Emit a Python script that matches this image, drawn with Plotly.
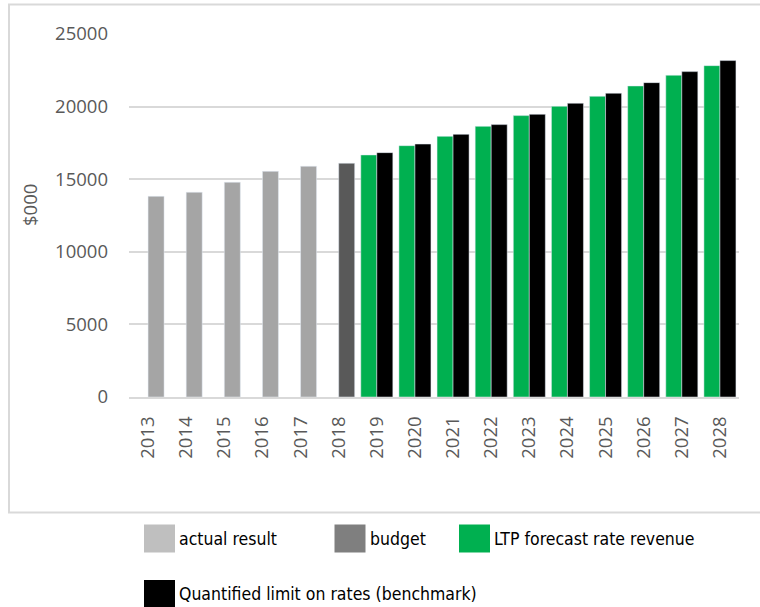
import plotly.graph_objects as go

# Rates revenue, $000
years = [str(y) for y in range(2013, 2029)]
actual_years = ["2013", "2014", "2015", "2016", "2017"]
actual_values = [13820, 14100, 14790, 15540, 15890]
budget_years = ["2018"]
budget_values = [16100]
forecast_years = [str(y) for y in range(2019, 2029)]
ltp_values = [16670, 17310, 17950, 18640, 19380, 20020, 20710, 21420, 22160, 22820]
benchmark_values = [16830, 17420, 18090, 18760, 19470, 20230, 20920, 21650, 22410, 23170]

legend_labels = ["actual result", "budget", "LTP forecast rate revenue",
                 "Quantified limit on rates (benchmark)"]

W, H = 760, 607
PL, PR, PT, PB = 129, 739, 34, 397  # plot area in pixels


def px(x):
    return (x - PL) / (PR - PL)


def py(y):
    return (PB - y) / (PB - PT)


BAR_W = 0.42
fig = go.Figure()
fig.add_bar(x=forecast_years, y=ltp_values, name=legend_labels[2],
            marker_color="#00b050", width=BAR_W, offset=-BAR_W)
fig.add_bar(x=actual_years, y=actual_values, name=legend_labels[0],
            marker_color="#a5a5a5", width=BAR_W, offset=0)
fig.add_bar(x=budget_years, y=budget_values, name=legend_labels[1],
            marker_color="#595959", width=BAR_W, offset=0)
fig.add_bar(x=forecast_years, y=benchmark_values, name=legend_labels[3],
            marker_color="#000000", width=BAR_W, offset=0)

axis_font = dict(family="Open Sans, sans-serif", size=18.5, color="#595959")

fig.update_layout(
    width=W, height=H,
    margin=dict(l=PL, r=W - PR, t=PT, b=H - PB, pad=0),
    paper_bgcolor="white", plot_bgcolor="white",
    barmode="overlay",
    showlegend=False,
    xaxis=dict(type="category", categoryorder="array", categoryarray=years,
               tickangle=-90, tickfont=axis_font, showgrid=False,
               showline=True, linecolor="#d9d9d9", linewidth=2,
               ticks="", ticklabelstandoff=10, fixedrange=True),
    yaxis=dict(range=[0, 25000], tickvals=[0, 5000, 10000, 15000, 20000, 25000],
               tickformat="d", tickfont=axis_font, showgrid=True,
               gridcolor="#d9d9d9", gridwidth=1.5, zeroline=False,
               showline=False, ticks="", ticklabelstandoff=20),
)

# Axis title
fig.add_annotation(xref="paper", yref="paper", x=px(29), y=py(205),
                   text="$000", showarrow=False, textangle=-90,
                   xanchor="center", yanchor="middle", font=axis_font)

# Chart frame
fig.add_shape(type="rect", xref="paper", yref="paper",
              x0=px(9), x1=px(770), y0=py(512.5), y1=py(4.5),
              line=dict(color="#d9d9d9", width=2), fillcolor="rgba(0,0,0,0)",
              layer="below")

# Legend below the frame
legend_colors = ["#bfbfbf", "#7f7f7f", "#00b050", "#000000"]
legend_pos = [(144, 524.5), (334.5, 524.5), (459, 524.5), (144, 580)]
legend_font = dict(family="DejaVu Sans Condensed, sans-serif",
                   size=17.5, color="#000000")
for label, color, (lx, ly) in zip(legend_labels, legend_colors, legend_pos):
    fig.add_shape(type="rect", xref="paper", yref="paper",
                  x0=px(lx), x1=px(lx + 31), y0=py(ly + 28), y1=py(ly),
                  line=dict(width=0), fillcolor=color)
    fig.add_annotation(xref="paper", yref="paper", x=px(lx + 33), y=py(ly + 14),
                       text=label, showarrow=False, xanchor="left", yanchor="middle",
                       font=legend_font)

fig.write_html("out.html")
